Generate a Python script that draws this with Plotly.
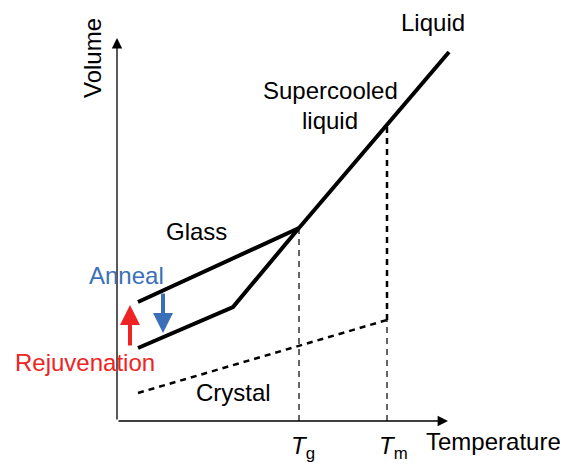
import plotly.graph_objects as go

# coordinates: T = temperature (px right of origin), V = volume (px above origin)
liquid_T = [182, 332]
liquid_V = [193, 369]

glass_hi_T = [21, 182]
glass_hi_V = [119, 193]

glass_lo_T = [21, 116, 182]
glass_lo_V = [73, 114, 193]

crystal_T = [21, 270]
crystal_V = [28, 101]

Tg = 182
Tm = 270
Tg_V = 193
Tm_V = 298

fig = go.Figure()

BLACK = "#000000"

fig.add_trace(go.Scatter(x=liquid_T, y=liquid_V, mode="lines",
                         line=dict(color=BLACK, width=4)))
fig.add_trace(go.Scatter(x=glass_hi_T, y=glass_hi_V, mode="lines",
                         line=dict(color=BLACK, width=4)))
fig.add_trace(go.Scatter(x=glass_lo_T, y=glass_lo_V, mode="lines",
                         line=dict(color=BLACK, width=4)))
fig.add_trace(go.Scatter(x=crystal_T, y=crystal_V, mode="lines",
                         line=dict(color=BLACK, width=2.5, dash="6px,5px")))
# Tg / Tm guides
fig.add_trace(go.Scatter(x=[Tg, Tg], y=[0, Tg_V], mode="lines",
                         line=dict(color=BLACK, width=1.2, dash="6px,5px")))
fig.add_trace(go.Scatter(x=[Tm, Tm], y=[0, crystal_V[1]], mode="lines",
                         line=dict(color=BLACK, width=1.2, dash="6px,5px")))
fig.add_trace(go.Scatter(x=[Tm, Tm], y=[crystal_V[1], Tm_V], mode="lines",
                         line=dict(color=BLACK, width=2.5, dash="6px,5px")))

# axes with arrowheads
fig.add_annotation(x=0, y=383, ax=0, ay=0, axref="x", ayref="y", xref="x", yref="y",
                   showarrow=True, arrowhead=2, arrowsize=1.6, arrowwidth=1.3,
                   arrowcolor=BLACK, text="")
fig.add_annotation(x=331, y=0, ax=0, ay=0, axref="x", ayref="y", xref="x", yref="y",
                   showarrow=True, arrowhead=2, arrowsize=1.6, arrowwidth=1.3,
                   arrowcolor=BLACK, text="")

# rejuvenation / anneal arrows
RED = "#ee2424"
BLUE = "#3b6fb8"
fig.add_annotation(x=13, y=116, ax=13, ay=74, axref="x", ayref="y",
                   showarrow=True, arrowhead=2, arrowsize=1.0, arrowwidth=4,
                   arrowcolor=RED, text="")
fig.add_annotation(x=46, y=88, ax=46, ay=129, axref="x", ayref="y",
                   showarrow=True, arrowhead=2, arrowsize=1.0, arrowwidth=4,
                   arrowcolor=BLUE, text="")

FONT = "Liberation Sans, Arial, sans-serif"


def label(text, x, y, color=BLACK, size=24, angle=0):
    fig.add_annotation(x=x, y=y, text=text, showarrow=False,
                       font=dict(family=FONT, size=size, color=color),
                       textangle=angle, xanchor="center", yanchor="middle")


label("Liquid", 316, 399)
label("Supercooled", 213, 331)
label("liquid", 213, 301)
label("Glass", 79, 190)
label("Anneal", 9, 146, color=BLUE)
label("Rejuvenation", -32, 59, color=RED)
label("Crystal", 116, 29)
label("Temperature", 376, -20)
label("Volume", -25, 363, angle=-90)
label("<i>T</i><sub>g</sub>", 186, -26)
label("<i>T</i><sub>m</sub>", 276, -26)

# page body has an 8px margin, so the ranges are offset to keep the drawing in place
fig.update_layout(
    width=568, height=465,
    margin=dict(l=0, r=0, t=0, b=0),
    paper_bgcolor="white", plot_bgcolor="white",
    showlegend=False,
    xaxis=dict(range=[-109, 459], visible=False, fixedrange=True),
    yaxis=dict(range=[-52, 413], visible=False, fixedrange=True),
)

fig.write_html("out.html")
